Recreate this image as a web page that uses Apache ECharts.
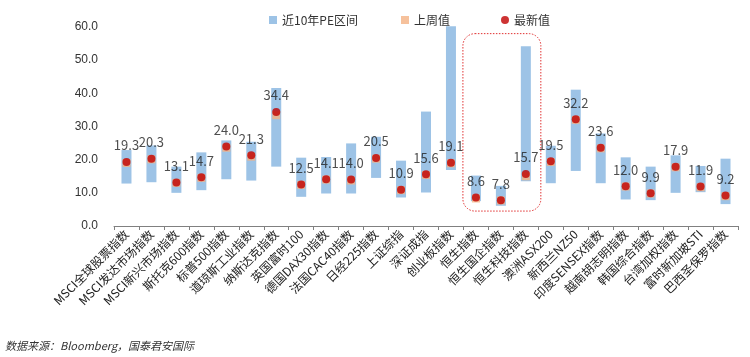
<!DOCTYPE html>
<html>
<head>
<meta charset="utf-8">
<script src="https://cdn.jsdelivr.net/npm/echarts@6/dist/echarts.min.js"></script>
<style>html,body{margin:0;padding:0;background:#fff;}#c{width:750px;height:357px;}</style>
</head>
<body>
<div id="c"></div>
<script>
const categories = ['MSCI全球股票指数','MSCI发达市场指数','MSCI新兴市场指数','斯托克600指数','标普500指数','道琼斯工业指数','纳斯达克指数','英国富时100','德国DAX30指数','法国CAC40指数','日经225指数','上证综指','深证成指','创业板指数','恒生指数','恒生国企指数','恒生科技指数','澳洲ASX200','新西兰NZ50','印度SENSEX指数','越南胡志明指数','韩国综合指数','台湾加权指数','富时新加坡STI','巴西圣保罗指数'];
const peLow  = [12.8,13.2,10.0,10.8,14.1,13.7,17.9,8.8,9.8,9.8,14.5,8.6,10.1,16.9,7.5,6.1,13.5,12.9,16.6,12.9,8.0,7.8,10.0,10.2,6.6];
const peHigh = [22.9,24.3,17.9,22.2,25.8,25.4,41.6,20.6,20.8,24.9,26.9,19.7,34.5,60.2,15.2,12.1,54.2,24.2,41.1,27.9,20.7,17.9,21.3,18.1,20.3];
const lastWeek = [19.0,20.1,13.0,14.5,23.6,20.9,33.4,12.4,14.0,13.7,20.3,10.8,15.4,18.9,8.3,7.7,15.0,19.3,32.0,23.4,11.9,9.8,17.7,11.7,9.0];
const latest = [19.3,20.3,13.1,14.7,24.0,21.3,34.4,12.5,14.1,14.0,20.5,10.9,15.6,19.1,8.6,7.8,15.7,19.5,32.2,23.6,12.0,9.9,17.9,11.9,9.2];
const yTicks = {min:0, max:60, interval:10};
const highlightRange = ['恒生指数','恒生科技指数'];

const chart = echarts.init(document.getElementById('c'));
const CJK = '"Noto Sans CJK SC", "Noto Sans", sans-serif';
const rangeSpan = peHigh.map((h,i)=>+(h-peLow[i]).toFixed(2));

const legendBase = {top: 9, itemWidth: 8, itemHeight: 8, itemGap: 4,
  textStyle: {fontFamily: CJK, fontSize: 12, color: '#333'}};

chart.setOption({
  animation: false,
  backgroundColor: '#fff',
  legend: [
    Object.assign({}, legendBase, {left: 264, data: [{name:'近10年PE区间', icon:'rect'}]}),
    Object.assign({}, legendBase, {left: 396, data: [{name:'上周值', icon:'rect'}]}),
    Object.assign({}, legendBase, {left: 496, data: [{name:'最新值', icon:'circle'}]})
  ],
  grid: {left: 114, right: 12, top: 27, bottom: 131, containLabel: false},
  xAxis: {
    type: 'category', data: categories, boundaryGap: true,
    axisLine: {lineStyle: {color: '#808080', width: 1}},
    axisTick: {show: true, length: 4, lineStyle: {color: '#808080'}},
    axisLabel: {interval: 0, rotate: 45, fontFamily: CJK, fontSize: 12, color: '#222', margin: 6}
  },
  yAxis: {
    type: 'value', min: yTicks.min, max: yTicks.max, interval: yTicks.interval,
    axisLine: {show: false}, axisTick: {show: false}, splitLine: {show: false},
    axisLabel: {formatter: v => v.toFixed(1), fontFamily: 'Liberation Sans, Arial, sans-serif', fontSize: 12, color: '#333', margin: 16}
  },
  series: [
    {name: 'base', type: 'bar', stack: 'pe', data: peLow, barWidth: 10,
     itemStyle: {color: 'transparent'}, silent: true, clip: false},
    {name: '近10年PE区间', type: 'bar', stack: 'pe', data: rangeSpan, barWidth: 10,
     itemStyle: {color: '#9DC3E6'}, clip: false},
    {name: '上周值', type: 'scatter', data: lastWeek, symbol: 'rect', symbolSize: 8,
     itemStyle: {color: '#F4B183'}, z: 3},
    {name: '最新值', type: 'scatter', data: latest, symbol: 'circle', symbolSize: 8,
     itemStyle: {color: '#C00000'}, z: 4,
     label: {show: true, position: 'top', distance: 6, formatter: p => p.value.toFixed(1),
       fontFamily: CJK, fontSize: 13, color: '#222'}}
  ]
});

// Dotted rounded annotation box around the Hang Seng group
const i0 = categories.indexOf(highlightRange[0]);
const i1 = categories.indexOf(highlightRange[1]);
const x0 = chart.convertToPixel({xAxisIndex: 0}, i0);
const x1 = chart.convertToPixel({xAxisIndex: 0}, i1);
const yTop = chart.convertToPixel({yAxisIndex: 0}, 58);
const yBot = chart.convertToPixel({yAxisIndex: 0}, 4.5);
chart.setOption({
  graphic: [
    {type: 'rect', shape: {x: x0 - 13, y: yTop, width: (x1 - x0) + 28, height: yBot - yTop, r: 12},
     style: {fill: 'none', stroke: '#E03030', lineWidth: 1, lineDash: [1.5, 1.5]}, z: 10},
    {type: 'text', left: 5, top: 340,
     style: {text: '数据来源：Bloomberg，国泰君安国际', font: 'italic 11px "Noto Sans CJK SC", sans-serif', fill: '#333'}}
  ]
});
</script>
</body>
</html>
